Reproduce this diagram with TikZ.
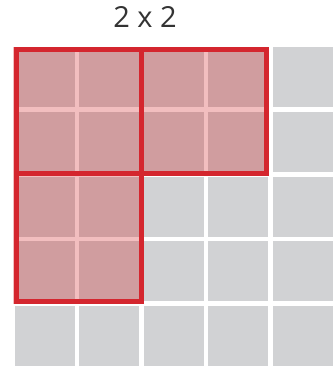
\documentclass[tikz,border=0pt]{standalone}
\usepackage{fontspec}
\setmainfont{Open Sans}
\definecolor{cellgray}{RGB}{209,210,212}
\definecolor{framered}{RGB}{212,38,46}
\definecolor{tintred}{RGB}{206,15,19}
\begin{document}
\begin{tikzpicture}[x=1pt,y=-1pt,
 cell/.style={fill=cellgray},
 tint/.style={fill=tintred,fill opacity=0.27},
 frame/.style={draw=framered,line width=5pt}]
\useasboundingbox (0,0) rectangle (336,368);
\foreach \i in {0,...,4}{ \foreach \j in {0,...,4}{
  \fill[cell] (15+64.5*\i, 47+64.75*\j) rectangle ++(60,60);
}}
\fill[tint] (13.5,46.5) rectangle (269,176);
\fill[tint] (13.5,176) rectangle (144,304);
\draw[frame] (16.5,49.5) rectangle (141.5,173.5);
\draw[frame] (141.5,49.5) rectangle (266.5,173.5);
\draw[frame] (16.5,173.5) rectangle (141.5,301);
\node[text=black!80, font=\fontsize{29}{34}\selectfont] (title) at (145,17) {2 x 2};
\end{tikzpicture}
\end{document}
